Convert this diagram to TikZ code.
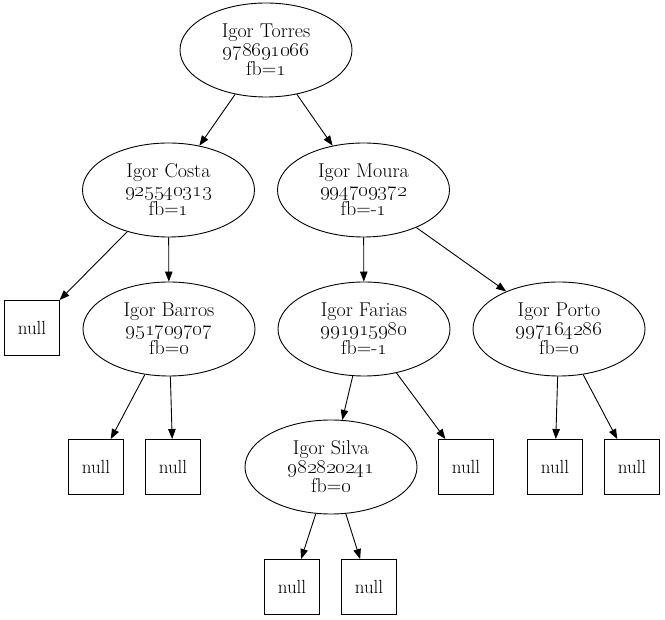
\documentclass[tikz,border=0pt]{standalone}
\usetikzlibrary{shapes.geometric,arrows.meta}
\begin{document}
\begin{tikzpicture}[x=1pt,y=-1pt,
  avl/.style={ellipse, draw, line width=0.9pt, minimum width=172pt, minimum height=94pt, inner sep=0pt, align=center, font=\fontsize{20}{19}\selectfont},
  nullbox/.style={rectangle, draw, line width=0.9pt, minimum size=55pt, inner sep=0pt, font=\fontsize{19}{19}\selectfont},
  edge/.style={draw, line width=0.9pt, -{Triangle[length=10pt,width=7.5pt]}}]
\useasboundingbox (0,0) rectangle (665,620);
\newcommand{\osn}[1]{\oldstylenums{#1}}
\node[avl] (root) at (266,50) {Igor Torres\\\osn{978691066}\\fb=\osn{1}};
\node[avl] (costa) at (168.5,190) {Igor Costa\\\osn{925540313}\\fb=\osn{1}};
\node[avl] (moura) at (363.5,190) {Igor Moura\\\osn{994709372}\\fb=-\osn{1}};
\node[nullbox] (n1) at (32,328) {null};
\node[avl] (barros) at (169,329) {Igor Barros\\\osn{951709707}\\fb=\osn{0}};
\node[avl] (farias) at (364,329) {Igor Farias\\\osn{991915980}\\fb=-\osn{1}};
\node[avl] (porto) at (559,329) {Igor Porto\\\osn{997164286}\\fb=\osn{0}};
\node[nullbox] (n2) at (96,467) {null};
\node[nullbox] (n3) at (173,467) {null};
\node[avl] (silva) at (331,467) {Igor Silva\\\osn{982820241}\\fb=\osn{0}};
\node[nullbox] (n4) at (466,467) {null};
\node[nullbox] (n5) at (555,467) {null};
\node[nullbox] (n6) at (632,467) {null};
\node[nullbox] (n7) at (292,587) {null};
\node[nullbox] (n8) at (369,587) {null};
\path[edge] (root) -- (costa);
\path[edge] (root) -- (moura);
\path[edge] (costa) -- (n1);
\path[edge] (costa) -- (barros);
\path[edge] (moura) -- (farias);
\path[edge] (moura) -- (porto);
\path[edge] (barros) -- (n2);
\path[edge] (barros) -- (n3);
\path[edge] (farias) -- (silva);
\path[edge] (farias) -- (n4);
\path[edge] (porto) -- (n5);
\path[edge] (porto) -- (n6);
\path[edge] (silva) -- (n7);
\path[edge] (silva) -- (n8);
\end{tikzpicture}
\end{document}
